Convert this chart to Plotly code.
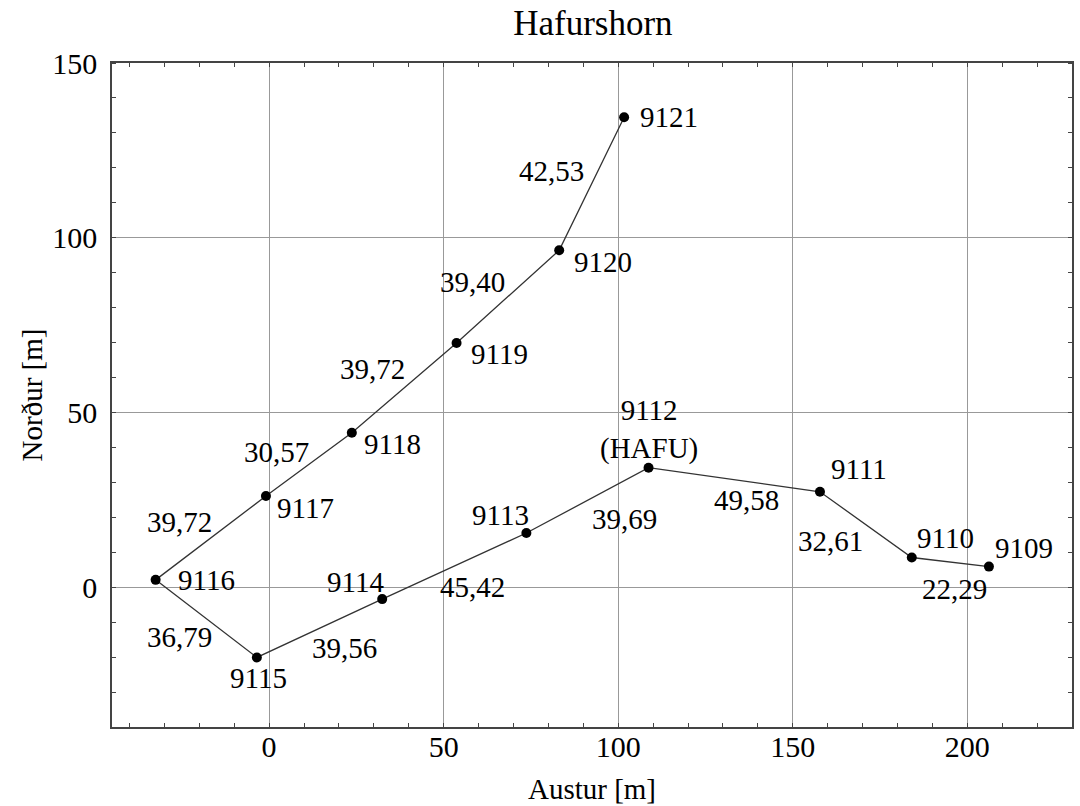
import plotly.graph_objects as go

# Station names and coordinates (Austur, Norður) in metres
stations = ["9121", "9120", "9119", "9118", "9117", "9116", "9115",
            "9114", "9113", "9112<br>(HAFU)", "9111", "9110", "9109"]
austur = [101.7, 83.1, 53.7, 23.7, -0.9, -32.5, -3.5, 32.4, 73.7, 108.7, 157.8, 184.1, 206.2]
nordur = [134.5, 96.4, 69.9, 44.2, 26.1, 2.1, -20.1, -3.4, 15.5, 34.2, 27.3, 8.5, 5.9]
# Segment lengths between consecutive stations
lengths = ["42,53", "39,40", "39,72", "30,57", "39,72", "36,79",
           "39,56", "45,42", "39,69", "49,58", "32,61", "22,29"]

# Pixel offsets for labels (style only)
pt_shift = [(45, 0), (44, -12), (43, -11), (41, -11), (40, -12), (51, 0), (2, -21),
            (-27, 17), (-26, 18), (0, 38), (39, 23), (34, 20), (35, 19)]
seg_shift = [(-40, 13), (-35, 15), (-32, 19), (-32, 12), (-31, 16), (-27, -18),
             (25, -20), (18, -21), (37, -19), (12, -20), (-35, -16), (4, -27)]

FONT = "Liberation Serif"
FS = 29

fig = go.Figure()
fig.add_trace(go.Scatter(
    x=austur, y=nordur, mode="lines+markers",
    line=dict(color="#333333", width=1.3),
    marker=dict(color="black", size=10),
    showlegend=False, hoverinfo="skip"))

annotations = []
for name, x, y, (dx, dy) in zip(stations, austur, nordur, pt_shift):
    annotations.append(dict(x=x, y=y, text=name, showarrow=False, xshift=dx, yshift=dy,
                            font=dict(family=FONT, size=FS, color="black"), align="center"))
for i, t in enumerate(lengths):
    mx = (austur[i] + austur[i + 1]) / 2
    my = (nordur[i] + nordur[i + 1]) / 2
    dx, dy = seg_shift[i]
    annotations.append(dict(x=mx, y=my, text=t, showarrow=False, xshift=dx, yshift=dy,
                            font=dict(family=FONT, size=FS, color="black")))

axis_common = dict(
    showgrid=True, gridcolor="#999999", gridwidth=1,
    showline=True, linecolor="#444444", linewidth=1.5, mirror="allticks",
    ticks="", zeroline=False, automargin=False,
    tickfont=dict(family=FONT, size=30, color="black"),
    minor=dict(ticks="inside", ticklen=4, tickcolor="#444444", showgrid=False),
)

fig.update_layout(
    width=1080, height=806,
    font=dict(family=FONT, size=FS, color="black"),
    paper_bgcolor="white", plot_bgcolor="white",
    margin=dict(l=112, r=8, t=63, b=79),
    title=dict(text="Hafurshorn", x=0.549, xanchor="center", y=0.972, yanchor="middle",
               font=dict(family=FONT, size=35, color="black")),
    xaxis=dict(range=[-45, 230], tickvals=[0, 50, 100, 150, 200], ticklabelstandoff=-8,
               **axis_common,
               title=dict(text="Austur [m]", font=dict(family=FONT, size=FS, color="black"), standoff=17)),
    yaxis=dict(range=[-40, 150], tickvals=[0, 50, 100, 150], ticklabelstandoff=7,
               **axis_common,
               title=dict(text="Norður [m]", font=dict(family=FONT, size=FS, color="black"), standoff=1)),
    annotations=annotations,
)
fig.update_xaxes(minor_dtick=10)
fig.update_yaxes(minor_dtick=10)

fig.write_html("out.html", config={"displayModeBar": False},
               post_script="document.body.style.margin='0';document.body.style.overflow='hidden';")
